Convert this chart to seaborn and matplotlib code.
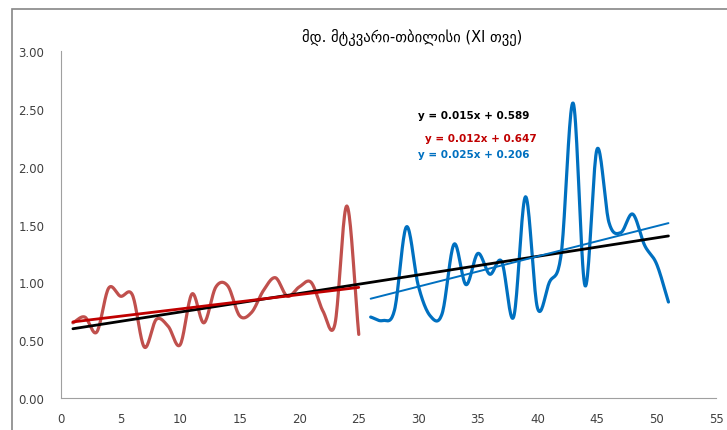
import numpy as np
import pandas as pd
import seaborn as sns
import matplotlib.pyplot as plt
from matplotlib.patches import Rectangle

# Datos
# ------------------------------------------------------------------------------
x_rojo = list(range(1, 26))
y_rojo = [0.65, 0.70, 0.57, 0.95, 0.88, 0.89, 0.44, 0.68, 0.62, 0.46,
          0.90, 0.65, 0.96, 0.97, 0.71, 0.74, 0.93, 1.04, 0.88, 0.96,
          1.00, 0.75, 0.64, 1.66, 0.55]

x_azul = list(range(26, 52))
y_azul = [0.70, 0.67, 0.76, 1.48, 0.97, 0.71, 0.73, 1.33, 0.98, 1.25,
          1.07, 1.18, 0.70, 1.74, 0.78, 1.00, 1.25, 2.55, 0.97, 2.15,
          1.52, 1.43, 1.59, 1.32, 1.16, 0.83]

titulo = "მდ. მტკვარი-თბილისი (XI თვე)"
ecuaciones = ["y = 0.015x + 0.589", "y = 0.012x + 0.647", "y = 0.025x + 0.206"]

color_rojo = "#C0504D"
color_rojo_tend = "#C00000"
color_azul = "#0070C0"


def suavizar(x, y, pasos=20):
    """Curva tipo Catmull-Rom (linea suavizada como en Excel)."""
    x = np.asarray(x, float)
    y = np.asarray(y, float)
    px = np.concatenate([[2 * x[0] - x[1]], x, [2 * x[-1] - x[-2]]])
    py = np.concatenate([[2 * y[0] - y[1]], y, [2 * y[-1] - y[-2]]])
    t = np.linspace(0, 1, pasos, endpoint=False)
    xs, ys = [], []
    for i in range(1, len(px) - 2):
        for p, out in ((px, xs), (py, ys)):
            p0, p1, p2, p3 = p[i - 1], p[i], p[i + 1], p[i + 2]
            out.extend(0.5 * (2 * p1 + (-p0 + p2) * t
                              + (2 * p0 - 5 * p1 + 4 * p2 - p3) * t ** 2
                              + (-p0 + 3 * p1 - 3 * p2 + p3) * t ** 3))
    xs.append(x[-1])
    ys.append(y[-1])
    return pd.DataFrame({"x": xs, "y": ys})


df_rojo = pd.DataFrame({"x": x_rojo, "y": y_rojo})
df_azul = pd.DataFrame({"x": x_azul, "y": y_azul})
df_total = pd.concat([df_rojo, df_azul], ignore_index=True)

sns.set_style("white")
plt.rcParams["font.family"] = ["DejaVu Sans"]

fig = plt.figure(figsize=(7.27, 4.31), dpi=100)
ax = fig.add_axes([0.0839, 0.0742, 0.9011, 0.8051])

# marco del grafico
fig.patches.append(Rectangle((12 / 727, -0.1), 1.2, 1 - 10 / 431 + 0.1,
                             transform=fig.transFigure, fill=False,
                             edgecolor="#868686", linewidth=1.2))

sns.lineplot(data=suavizar(x_rojo, y_rojo), x="x", y="y", sort=False,
             color=color_rojo, linewidth=2.3, ax=ax)
sns.lineplot(data=suavizar(x_azul, y_azul), x="x", y="y", sort=False,
             color=color_azul, linewidth=2.3, ax=ax)

# lineas de tendencia
sns.regplot(data=df_total, x="x", y="y", scatter=False, ci=None,
            color="black", line_kws={"linewidth": 2.0}, ax=ax)
sns.regplot(data=df_rojo, x="x", y="y", scatter=False, ci=None,
            color=color_rojo_tend, line_kws={"linewidth": 2.0}, ax=ax)
sns.regplot(data=df_azul, x="x", y="y", scatter=False, ci=None,
            color=color_azul, line_kws={"linewidth": 1.4}, ax=ax)

ax.text(30.0, 2.45, ecuaciones[0], color="black", fontsize=7.5,
        fontweight="bold", va="center")
ax.text(30.6, 2.25, ecuaciones[1], color=color_rojo_tend, fontsize=7.5,
        fontweight="bold", va="center")
ax.text(30.0, 2.11, ecuaciones[2], color=color_azul, fontsize=7.5,
        fontweight="bold", va="center")

ax.set_xlim(0, 55)
ax.set_ylim(0, 3)
ax.set_xticks(range(0, 56, 5))
ax.set_yticks(np.arange(0, 3.01, 0.5))
ax.set_yticklabels([f"{v:.2f}" for v in np.arange(0, 3.01, 0.5)])
ax.set_xlabel("")
ax.set_ylabel("")
ax.tick_params(axis="both", direction="out", length=4, width=0.8,
               color="#A0A0A0", labelsize=8.5, labelcolor="#404040", pad=6)
ax.tick_params(axis="y", pad=8)
for lado in ["top", "right"]:
    ax.spines[lado].set_visible(False)
for lado in ["left", "bottom"]:
    ax.spines[lado].set_color("#A0A0A0")
    ax.spines[lado].set_linewidth(0.8)

fig.text(0.567, 0.914, titulo, fontsize=10.5, ha="center", va="center",
         color="black")

fig.savefig("out.png", dpi=100)
